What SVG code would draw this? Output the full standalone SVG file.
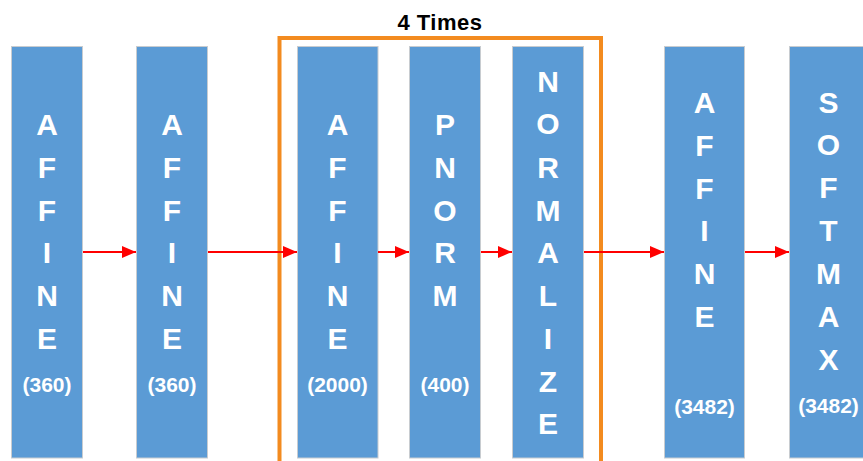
<svg xmlns="http://www.w3.org/2000/svg" width="863" height="461" viewBox="0 0 863 461">
  <defs>
    <style>
      .blk { fill: #5B9BD5; stroke: #C8CCD0; stroke-width: 1; }
      .lbl { font-family: "Liberation Sans", Arial, sans-serif; font-weight: bold; fill: #FFFFFF; text-anchor: middle; font-size: 30px; }
      .num { font-family: "Liberation Sans", Arial, sans-serif; font-weight: bold; fill: #FFFFFF; text-anchor: middle; font-size: 21px; }
      .title { font-family: "Liberation Sans", Arial, sans-serif; font-weight: bold; fill: #000000; text-anchor: middle; font-size: 22px; letter-spacing: 0.5px; }
      .flow { stroke: #FF0000; stroke-width: 2; fill: none; }
      .loop { fill: none; stroke: #F38B1F; stroke-width: 4; }
    </style>
    <marker id="head" viewBox="0 0 14 12" refX="14" refY="6" markerWidth="14" markerHeight="12" markerUnits="userSpaceOnUse" orient="auto">
      <path d="M0,0 L14,6 L0,12 Z" fill="#FF0000"/>
    </marker>
  </defs>

  <rect width="863" height="461" fill="#FFFFFF"/>

  <!-- repeated block frame -->
  <g id="repeat-group">
    <rect class="loop" x="279.5" y="38" width="321.5" height="440"/>
    <text class="title" x="440" y="30">4 Times</text>
  </g>

  <g id="affine-1">
    <rect class="blk" x="11.5" y="46.5" width="71" height="411.5"/>
    <text class="lbl" x="47">
      <tspan x="47" y="135">A</tspan><tspan x="47" y="178">F</tspan><tspan x="47" y="221">F</tspan><tspan x="47" y="263">I</tspan><tspan x="47" y="306">N</tspan><tspan x="47" y="349">E</tspan>
    </text>
    <text class="num" x="47" y="392">(360)</text>
  </g>

  <g id="affine-2">
    <rect class="blk" x="136.5" y="46.5" width="71" height="411.5"/>
    <text class="lbl" x="172">
      <tspan x="172" y="135">A</tspan><tspan x="172" y="178">F</tspan><tspan x="172" y="221">F</tspan><tspan x="172" y="263">I</tspan><tspan x="172" y="306">N</tspan><tspan x="172" y="349">E</tspan>
    </text>
    <text class="num" x="172" y="392">(360)</text>
  </g>

  <g id="affine-3">
    <rect class="blk" x="297.5" y="46.5" width="80.5" height="411.5"/>
    <text class="lbl" x="337.5">
      <tspan x="337.5" y="135">A</tspan><tspan x="337.5" y="178">F</tspan><tspan x="337.5" y="221">F</tspan><tspan x="337.5" y="263">I</tspan><tspan x="337.5" y="306">N</tspan><tspan x="337.5" y="349">E</tspan>
    </text>
    <text class="num" x="337.5" y="392">(2000)</text>
  </g>

  <g id="pnorm">
    <rect class="blk" x="409.5" y="46.5" width="71" height="411.5"/>
    <text class="lbl" x="445">
      <tspan x="445" y="135">P</tspan><tspan x="445" y="178">N</tspan><tspan x="445" y="221">O</tspan><tspan x="445" y="263">R</tspan><tspan x="445" y="306">M</tspan>
    </text>
    <text class="num" x="445" y="392">(400)</text>
  </g>

  <g id="normalize">
    <rect class="blk" x="512.5" y="46.5" width="71" height="411.5"/>
    <text class="lbl" x="548">
      <tspan x="548" y="92">N</tspan><tspan x="548" y="134">O</tspan><tspan x="548" y="178">R</tspan><tspan x="548" y="221">M</tspan><tspan x="548" y="263">A</tspan><tspan x="548" y="306">L</tspan><tspan x="548" y="349">I</tspan><tspan x="548" y="392">Z</tspan><tspan x="548" y="434">E</tspan>
    </text>
  </g>

  <g id="affine-4">
    <rect class="blk" x="664.5" y="46.5" width="80" height="411.5"/>
    <text class="lbl" x="704.5">
      <tspan x="704.5" y="113">A</tspan><tspan x="704.5" y="156">F</tspan><tspan x="704.5" y="199">F</tspan><tspan x="704.5" y="241">I</tspan><tspan x="704.5" y="284">N</tspan><tspan x="704.5" y="327">E</tspan>
    </text>
    <text class="num" x="704.5" y="414">(3482)</text>
  </g>

  <g id="softmax">
    <rect class="blk" x="789.5" y="46.5" width="80" height="411.5"/>
    <text class="lbl" x="828.5">
      <tspan x="828.5" y="113">S</tspan><tspan x="828.5" y="155">O</tspan><tspan x="828.5" y="198">F</tspan><tspan x="828.5" y="241">T</tspan><tspan x="828.5" y="284">M</tspan><tspan x="828.5" y="327">A</tspan><tspan x="828.5" y="370">X</tspan>
    </text>
    <text class="num" x="828.5" y="413">(3482)</text>
  </g>

  <!-- data flow between blocks -->
  <g id="connectors">
    <line class="flow" x1="83" y1="252" x2="136" y2="252" marker-end="url(#head)"/>
    <line class="flow" x1="208" y1="252" x2="297" y2="252" marker-end="url(#head)"/>
    <line class="flow" x1="378" y1="252" x2="409" y2="252" marker-end="url(#head)"/>
    <line class="flow" x1="481" y1="252" x2="512" y2="252" marker-end="url(#head)"/>
    <line class="flow" x1="584" y1="252" x2="664" y2="252" marker-end="url(#head)"/>
    <line class="flow" x1="745" y1="252" x2="789" y2="252" marker-end="url(#head)"/>
  </g>
</svg>
